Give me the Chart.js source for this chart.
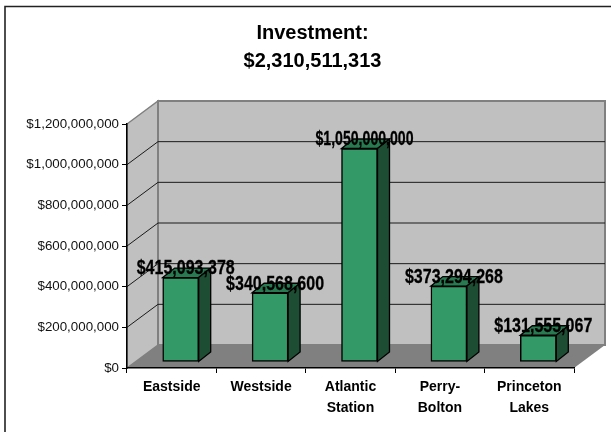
<!DOCTYPE html>
<html>
<head>
<meta charset="utf-8">
<title>Investment</title>
<script src="https://cdn.jsdelivr.net/npm/chart.js@4/dist/chart.umd.min.js"></script>
<style>
  html, body { margin: 0; padding: 0; background: #fff; }
  canvas { display: block; }
</style>
</head>
<body>
<canvas id="investment" width="611" height="432"></canvas>
<script>
const categories = [["Eastside"], ["Westside"], ["Atlantic", "Station"], ["Perry-", "Bolton"], ["Princeton", "Lakes"]];
const investment = [415093378, 340568600, 1050000000, 373294268, 131555067];
const titleLines = ["Investment:", "$2,310,511,313"];

const money = (v) => "$" + Number(v).toLocaleString("en-US");

// depth of the box the bars stand in, and of each bar
const wallDx = 31, wallDy = 23;
const barShiftX = 9, barShiftY = 6;
const barDx = 12, barDy = 9.5;

function poly(ctx, pts, fill, stroke, lw) {
    ctx.beginPath();
    pts.forEach((p, i) => (i ? ctx.lineTo(p[0], p[1]) : ctx.moveTo(p[0], p[1])));
    ctx.closePath();
    if (fill) {
        ctx.fillStyle = fill;
        ctx.fill();
    }
    if (stroke) {
        ctx.strokeStyle = stroke;
        ctx.lineWidth = lw;
        ctx.stroke();
    }
}

const box3d = {
    id: "box3d",
    beforeDraw(chart) {
        const { ctx, scales: { x, y } } = chart;
        const l = x.left, r = x.right, t = y.top, b = y.bottom;
        ctx.save();

        // outer frame, only top and left are visible
        ctx.strokeStyle = "#222";
        ctx.lineWidth = 1.6;
        ctx.beginPath();
        ctx.moveTo(5, 432);
        ctx.lineTo(5, 6.5);
        ctx.lineTo(611, 6.5);
        ctx.stroke();

        // side wall, back wall, floor
        poly(ctx, [[l, t], [l + wallDx, t - wallDy], [l + wallDx, b - wallDy], [l, b]], "#c0c0c0", "#808080", 1.5);
        poly(ctx, [[l + wallDx, t - wallDy], [r + wallDx, t - wallDy], [r + wallDx, b - wallDy], [l + wallDx, b - wallDy]], "#c0c0c0", "#808080", 2);
        poly(ctx, [[l, b], [l + wallDx, b - wallDy], [r + wallDx, b - wallDy], [r, b]], "#808080");

        // gridlines run round the side and back walls
        ctx.strokeStyle = "#1a1a1a";
        ctx.lineWidth = 1;
        y.ticks.forEach((tick) => {
            if (tick.value === 0 || tick.value === y.max) return;
            const py = y.getPixelForValue(tick.value);
            ctx.beginPath();
            ctx.moveTo(l, py);
            ctx.lineTo(l + wallDx, py - wallDy);
            ctx.lineTo(r + wallDx, py - wallDy);
            ctx.stroke();
        });
        ctx.restore();
    },
    beforeDatasetDraw(chart, args) {
        const ctx = chart.ctx;
        ctx.save();
        ctx.translate(barShiftX, -barShiftY);
        // top and side faces go down first, the library's bar is the front face
        args.meta.data.forEach((bar) => {
            const x0 = bar.x - bar.width / 2, x1 = bar.x + bar.width / 2;
            const top = bar.y, base = bar.base;
            poly(ctx, [[x0, top], [x0 + barDx, top - barDy], [x1 + barDx, top - barDy], [x1, top]], "#287a50", "#000", 1.3);
            poly(ctx, [[x1, top], [x1 + barDx, top - barDy], [x1 + barDx, base - barDy], [x1, base]], "#1d4d33", "#000", 1.3);
        });
    },
    afterDatasetDraw(chart) {
        chart.ctx.restore();
    },
    afterDraw(chart) {
        const ctx = chart.ctx;
        const meta = chart.getDatasetMeta(0);
        ctx.save();
        ctx.fillStyle = "#000";
        ctx.strokeStyle = "#000";
        ctx.lineWidth = 0.3;
        ctx.font = 'bold 21px "Liberation Sans", Arial, sans-serif';
        ctx.textAlign = "center";
        ctx.textBaseline = "middle";
        meta.data.forEach((bar, i) => {
            const lx = bar.x + barShiftX + 5, ly = bar.y - barShiftY - 9;
            ctx.fillText(money(investment[i]), lx, ly, 98);
            ctx.strokeText(money(investment[i]), lx, ly, 98);
        });
        ctx.restore();
    },
};

new Chart(document.getElementById("investment"), {
    type: "bar",
    data: {
        labels: categories,
        datasets: [
            {
                data: investment,
                backgroundColor: "#339966",
                borderColor: "#000",
                borderWidth: 1.5,
                borderSkipped: false,
                barThickness: 36,
                clip: false,
            },
        ],
    },
    options: {
        responsive: false,
        animation: false,
        // left padding keeps the title centred over the plot
        layout: { padding: { left: 14, right: 0, top: 0, bottom: 0 } },
        plugins: {
            legend: { display: false },
            tooltip: { enabled: false },
            title: {
                display: true,
                text: titleLines,
                color: "#000",
                font: { family: '"Liberation Sans", Arial, sans-serif', size: 20, weight: "bold", lineHeight: 1.4 },
                padding: { top: 19, bottom: 49 },
            },
        },
        scales: {
            x: {
                afterFit: (scale) => {
                    scale.height = 64;
                },
                border: { color: "#000", width: 1.5 },
                grid: { drawOnChartArea: false, color: "#000", tickLength: 5 },
                ticks: {
                    color: "#000",
                    padding: 4,
                    maxRotation: 0,
                    autoSkip: false,
                    font: { family: '"Liberation Sans", Arial, sans-serif', size: 14, weight: "bold", lineHeight: 1.5 },
                },
            },
            y: {
                min: 0,
                max: 1200000000,
                afterFit: (scale) => {
                    scale.width = 113;
                },
                border: { color: "#000", width: 1.5 },
                grid: { drawOnChartArea: false, color: "#000", tickLength: 5 },
                ticks: {
                    stepSize: 200000000,
                    color: "#111",
                    padding: 3,
                    callback: (v) => money(v),
                    font: { family: '"Liberation Sans", Arial, sans-serif', size: 13.33 },
                },
            },
            // empty axis, reserves the room the box depth needs on the right
            depthRoom: {
                position: "right",
                afterFit: (scale) => {
                    scale.width = 37;
                },
                border: { display: false },
                grid: { display: false },
                ticks: { display: false },
            },
        },
    },
    plugins: [box3d],
});
</script>
</body>
</html>
